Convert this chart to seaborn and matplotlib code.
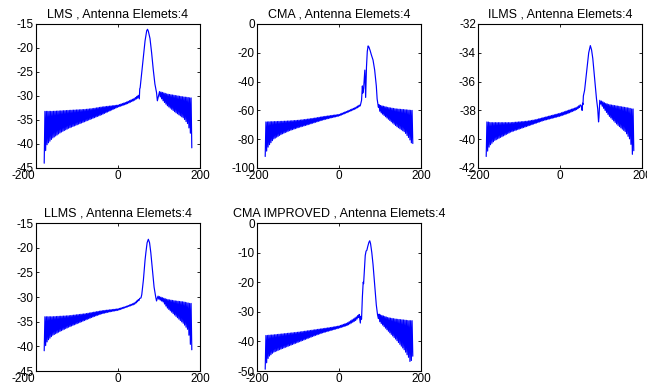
import numpy as np
import pandas as pd
import seaborn as sns
import matplotlib.pyplot as plt
from matplotlib.transforms import ScaledTranslation

# ---- data (angle in degrees, gain in dB) ----
# each panel: left sidelobe envelope, main lobe, right sidelobe envelope

# LMS
lms_left_ang = [-180, -178, -176, -170, -160, -140, -120, -100, -80, -60, -40, -20, 0, 20, 40, 50]
lms_left_hi = [-33.2, -33.2, -33.2, -33.2, -33.2, -33.1, -33.0, -32.9, -32.8, -32.6, -32.3, -32.1, -31.9, -31.3, -30.5, -29.8]
lms_left_lo = [-44.0, -44.0, -40.5, -39.8, -38.8, -37.6, -36.7, -36.0, -35.3, -34.6, -33.9, -33.1, -32.3, -31.7, -30.9, -30.3]
lms_lobe_ang = [52, 53, 54, 58, 62, 66, 70, 72, 74, 78, 82, 86, 90, 94, 96]
lms_lobe_val = [-30.6, -28.5, -28.3, -25.0, -21.5, -18.5, -16.4, -16.1, -16.5, -18.0, -21.0, -24.5, -27.5, -29.3, -31.0]
lms_right_ang = [98, 110, 120, 140, 160, 170, 176, 178, 180]
lms_right_hi = [-29.0, -29.3, -29.6, -29.9, -30.2, -30.3, -30.4, -30.4, -30.4]
lms_right_lo = [-29.6, -31.0, -32.0, -33.4, -34.6, -35.8, -37.5, -38.5, -40.8]

# CMA
cma_left_ang = [-180, -178, -176, -170, -160, -140, -120, -100, -80, -60, -40, -20, 0, 20, 40, 54]
cma_left_hi = [-68.0, -68.0, -68.0, -67.9, -67.8, -67.6, -67.3, -66.9, -66.2, -65.4, -64.4, -63.6, -62.8, -60.5, -58.0, -55.5]
cma_left_lo = [-92.0, -92.0, -87.0, -84.0, -80.0, -76.5, -74.0, -72.0, -70.3, -68.5, -66.7, -65.2, -63.9, -61.5, -59.0, -56.5]
cma_lobe_ang = [55, 57, 58, 60, 63, 65, 67, 69, 71, 73, 76, 79, 83, 87, 91, 93]
cma_lobe_val = [-53, -43, -48, -45, -32, -51, -30, -19, -15.2, -16, -18.5, -21.5, -25, -32, -43, -52]
cma_right_ang = [95, 100, 120, 140, 160, 170, 176, 178, 180]
cma_right_hi = [-55.5, -56.5, -58.0, -59.0, -59.5, -59.8, -60.0, -60.0, -60.0]
cma_right_lo = [-57.0, -61.0, -66.0, -71.0, -75.0, -79.0, -82.0, -84.0, -83.0]

# ILMS
ilms_left_ang = [-180, -178, -176, -170, -160, -140, -120, -100, -80, -60, -40, -20, 0, 20, 40, 50]
ilms_left_hi = [-38.8, -38.8, -38.8, -38.85, -38.85, -38.85, -38.85, -38.8, -38.75, -38.65, -38.5, -38.35, -38.2, -38.0, -37.8, -37.6]
ilms_left_lo = [-41.2, -41.2, -40.7, -40.4, -40.1, -39.8, -39.5, -39.3, -39.1, -38.9, -38.7, -38.55, -38.4, -38.2, -37.95, -37.75]
ilms_lobe_ang = [52, 54, 55, 56, 57, 60, 63, 66, 70, 74, 77, 80, 85, 89, 92, 94, 95, 97]
ilms_lobe_val = [-37.7, -38.0, -37.5, -37.6, -37.0, -36.6, -35.8, -35.0, -34.0, -33.5, -33.8, -34.4, -36.0, -37.2, -37.9, -38.8, -38.5, -37.3]
ilms_right_ang = [98, 110, 120, 140, 160, 170, 175, 178, 180]
ilms_right_hi = [-37.3, -37.5, -37.6, -37.7, -37.8, -37.85, -37.9, -37.9, -37.9]
ilms_right_lo = [-37.5, -38.0, -38.4, -39.0, -39.5, -40.0, -40.6, -41.5, -40.8]

# LLMS
llms_left_ang = [-180, -178, -176, -170, -160, -140, -120, -100, -80, -60, -40, -20, 0, 20, 40, 54]
llms_left_hi = [-34.0, -34.0, -34.0, -34.0, -34.0, -33.9, -33.8, -33.6, -33.4, -33.1, -32.8, -32.6, -32.4, -31.9, -31.2, -30.2]
llms_left_lo = [-40.9, -40.9, -39.5, -38.7, -37.8, -36.9, -36.1, -35.4, -34.7, -34.0, -33.4, -33.0, -32.7, -32.1, -31.5, -30.5]
llms_lobe_ang = [56, 58, 62, 66, 68, 71, 74, 77, 80, 84, 88, 92, 94, 96]
llms_lobe_val = [-30.2, -29.5, -26.5, -22.5, -21.0, -19.0, -18.3, -19.0, -21.0, -24.5, -28.0, -30.0, -30.8, -30.2]
llms_right_ang = [97, 110, 120, 140, 160, 170, 175, 178, 180]
llms_right_hi = [-29.8, -30.2, -30.5, -30.8, -31.0, -31.2, -31.3, -31.3, -31.3]
llms_right_lo = [-30.3, -31.0, -32.2, -33.8, -35.4, -36.6, -38.5, -40.7, -40.7]

# CMA IMPROVED
cmai_left_ang = [-180, -178, -176, -170, -160, -140, -120, -100, -80, -60, -40, -20, 0, 20, 40, 50]
cmai_left_hi = [-38.0, -38.0, -38.0, -37.9, -37.8, -37.5, -37.2, -36.9, -36.5, -36.1, -35.7, -35.3, -34.8, -33.8, -32.0, -30.8]
cmai_left_lo = [-49.4, -49.4, -46.5, -45.0, -43.7, -42.5, -41.4, -40.3, -39.2, -38.1, -37.1, -36.3, -35.5, -34.6, -33.0, -31.6]
cmai_lobe_ang = [52, 53, 55, 57, 59, 60, 62, 64, 66, 68, 70, 73, 75, 77, 80, 83, 87, 91, 94]
cmai_lobe_val = [-33.8, -31.5, -32.5, -25.0, -20.0, -20.5, -16.0, -11.0, -9.5, -9.2, -8.0, -6.5, -6.0, -7.0, -10.0, -14.0, -21.0, -27.7, -31.0]
cmai_right_ang = [95, 100, 120, 140, 160, 170, 174, 178, 180]
cmai_right_hi = [-30.5, -31.0, -32.0, -32.5, -32.8, -33.0, -33.0, -33.0, -33.0]
cmai_right_lo = [-32.0, -33.5, -36.5, -39.5, -43.0, -45.5, -47.2, -46.0, -45.0]

titles = ["LMS , Antenna Elemets:4", "CMA , Antenna Elemets:4", "ILMS , Antenna Elemets:4",
          "LLMS , Antenna Elemets:4", "CMA IMPROVED , Antenna Elemets:4"]
y_limits = [(-45, -15), (-100, 0), (-42, -32), (-45, -15), (-50, 0)]
y_steps = [5, 20, 2, 5, 10]
x_ticks = [-200, 0, 200]


def sidelobes(ang, hi, lo, start, stop, from_end=False, step=1.75):
    # nulls alternate with the lobe tops
    if from_end:
        a = np.arange(stop, start - 0.01, -step)[::-1]
        flip = (len(a) - 1 - np.arange(len(a))) % 2 == 0
    else:
        a = np.arange(start, stop + 0.01, step)
        flip = np.arange(len(a)) % 2 == 0
    g = np.where(flip, np.interp(a, ang, lo), np.interp(a, ang, hi))
    return a, g


def pattern(left_ang, left_hi, left_lo, lobe_ang, lobe_val, right_ang, right_hi, right_lo):
    a1, g1 = sidelobes(left_ang, left_hi, left_lo, left_ang[0], left_ang[-1])
    a3, g3 = sidelobes(right_ang, right_hi, right_lo, right_ang[0], right_ang[-1], from_end=True)
    return pd.DataFrame({
        "angle": np.concatenate([a1, lobe_ang, a3]),
        "gain": np.concatenate([g1, lobe_val, g3]),
    })


panels = [
    pattern(lms_left_ang, lms_left_hi, lms_left_lo, lms_lobe_ang, lms_lobe_val, lms_right_ang, lms_right_hi, lms_right_lo),
    pattern(cma_left_ang, cma_left_hi, cma_left_lo, cma_lobe_ang, cma_lobe_val, cma_right_ang, cma_right_hi, cma_right_lo),
    pattern(ilms_left_ang, ilms_left_hi, ilms_left_lo, ilms_lobe_ang, ilms_lobe_val, ilms_right_ang, ilms_right_hi, ilms_right_lo),
    pattern(llms_left_ang, llms_left_hi, llms_left_lo, llms_lobe_ang, llms_lobe_val, llms_right_ang, llms_right_hi, llms_right_lo),
    pattern(cmai_left_ang, cmai_left_hi, cmai_left_lo, cmai_lobe_ang, cmai_lobe_val, cmai_right_ang, cmai_right_hi, cmai_right_lo),
]

sns.set_theme(style="ticks", rc={
    "xtick.direction": "in", "ytick.direction": "in",
    "xtick.top": True, "ytick.right": True,
    "xtick.major.size": 2.5, "ytick.major.size": 2.5,
    "xtick.major.width": 0.6, "ytick.major.width": 0.6,
    "axes.linewidth": 0.8, "axes.edgecolor": "black",
    "xtick.color": "black", "ytick.color": "black",
    "text.color": "black", "axes.labelcolor": "black",
    "axes.unicode_minus": False,
})
plt.rcParams["font.family"] = ["Liberation Sans", "DejaVu Sans"]

fig = plt.figure(figsize=(6.47, 3.90), dpi=100)
W, H = 647, 390
lefts = [36, 257, 478]
rows = [(24, 168), (223, 371)]

for i, df in enumerate(panels):
    r, c = divmod(i, 3)
    top, bot = rows[r]
    ax = fig.add_axes([lefts[c] / W, 1 - bot / H, 164 / W, (bot - top) / H])
    sns.lineplot(data=df, x="angle", y="gain", ax=ax, color="blue",
                 linewidth=0.85, estimator=None, sort=False)
    lo, hi = y_limits[i]
    ax.set_xlim(-200, 200)
    ax.set_ylim(lo, hi)
    ax.set_xticks(x_ticks)
    ax.set_yticks(np.arange(lo, hi + 0.1, y_steps[i]))
    ax.tick_params(labelsize=8.5, pad=1.5)
    ax.set_xlabel("")
    ax.set_ylabel("")
    ax.set_title(titles[i], fontsize=9, pad=5)
    if c == 0:
        # first-column "-200" sits left of its tick in the original
        lab = ax.get_xticklabels()[0]
        lab.set_transform(lab.get_transform() + ScaledTranslation(-0.13, 0, fig.dpi_scale_trans))

fig.savefig("out.png", dpi=100)
